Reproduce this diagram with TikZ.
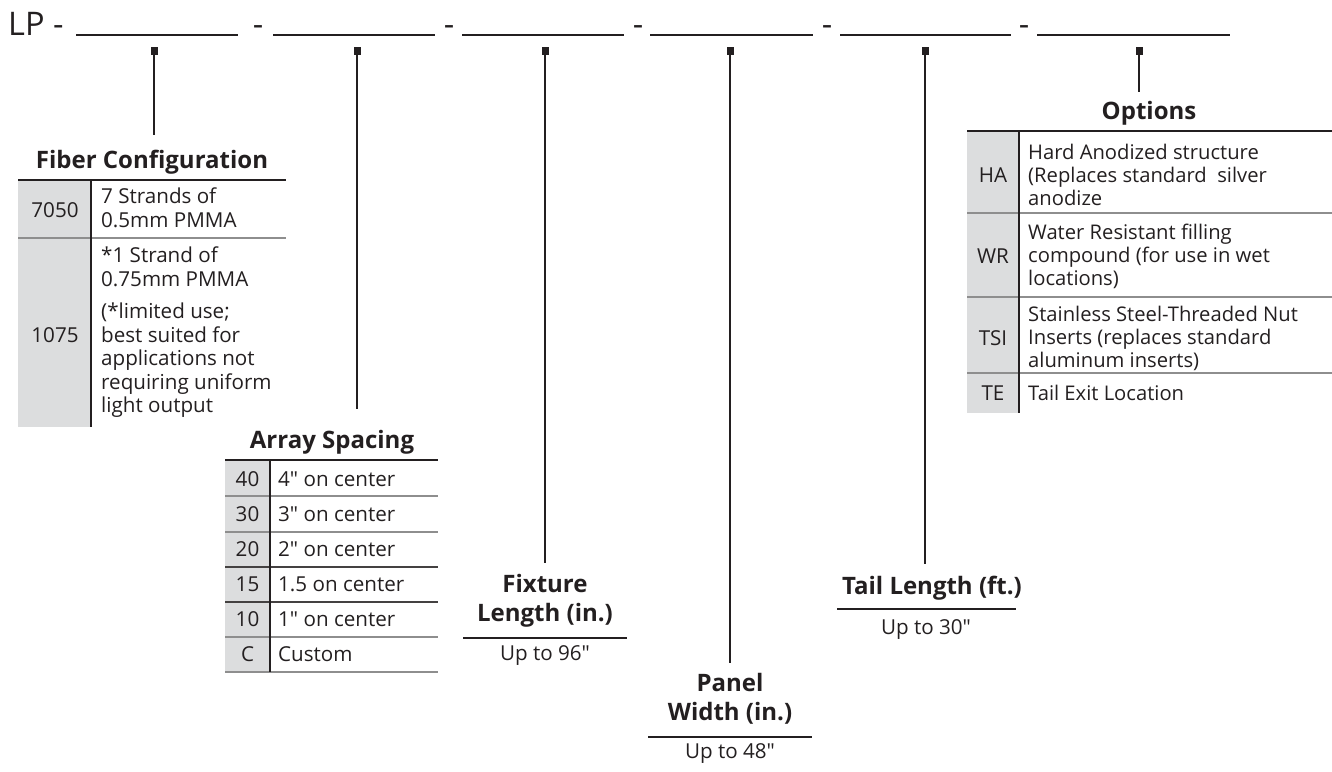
\documentclass[tikz,border=0pt]{standalone}
\usepackage{fontspec}
\setmainfont{Open Sans}[Ligatures=TeXOff]
\definecolor{ink}{HTML}{231F20}
\definecolor{cellgray}{HTML}{DCDDDE}
\definecolor{sepgray}{HTML}{8E8E8E}
\tikzset{
  hdr/.style={font=\fontsize{32.5}{36}\selectfont, text=ink, inner sep=0},
  sq/.style={fill=ink, minimum width=7pt, minimum height=8pt, inner sep=0},
  conn/.style={draw=ink, line width=1.6pt},
  blank/.style={draw=ink, line width=1.8pt},
  ttl/.style={font=\fontsize{24}{29}\selectfont\bfseries, text=ink, align=center, inner sep=0},
  txt/.style={font=\fontsize{20.6}{23.5}\selectfont, text=ink, align=left, anchor=west, inner sep=0},
  otxt/.style={txt, font=\fontsize{20.2}{23}\selectfont},
  code/.style={font=\fontsize{20.6}{23.5}\selectfont, text=ink, inner sep=0},
  upto/.style={font=\fontsize{20.6}{23.5}\selectfont, text=ink, inner sep=0},
  toprule/.style={draw=ink, line width=2pt},
  seprule/.style={draw=sepgray, line width=1.5pt},
  darksep/.style={draw=ink!85, line width=1.5pt},
  divrule/.style={draw=ink, line width=2.5pt},
  underrule/.style={draw=ink, line width=2pt}
}
\begin{document}
\begin{tikzpicture}[x=1pt,y=-1pt]
\useasboundingbox (0,0) rectangle (1332,771);

% ---------- header ----------
\node[hdr, anchor=base west] (lp) at (8,35) {LP -};
\draw[blank] (76,35) -- (238,35);
\node[hdr, anchor=base] (d1) at (258,35) {-};
\draw[blank] (273,35) -- (435,35);
\node[hdr, anchor=base] (d2) at (449,35) {-};
\draw[blank] (462,35) -- (624,35);
\node[hdr, anchor=base] (d3) at (638,35) {-};
\draw[blank] (650,35) -- (813,35);
\node[hdr, anchor=base] (d4) at (827,35) {-};
\draw[blank] (840,35) -- (1011,35);
\node[hdr, anchor=base] (d5) at (1024,35) {-};
\draw[blank] (1037,35) -- (1230,35);

% ---------- markers and leaders ----------
\node[sq] (s1) at (154,51) {};
\node[sq] (s2) at (357,51) {};
\node[sq] (s3) at (545,51) {};
\node[sq] (s4) at (730,51) {};
\node[sq] (s5) at (925,51) {};
\node[sq] (s6) at (1139,51) {};
\coordinate (e1) at (154,135);
\coordinate (e2) at (357,409);
\coordinate (e3) at (545,563);
\coordinate (e4) at (730,663);
\coordinate (e5) at (925,564);
\coordinate (e6) at (1139,92);
\draw[conn] (s1.south) -- (e1);
\draw[conn] (s2.south) -- (e2);
\draw[conn] (s3.south) -- (e3);
\draw[conn] (s4.south) -- (e4);
\draw[conn] (s5.south) -- (e5);
\draw[conn] (s6.south) -- (e6);

% ---------- Fiber Configuration ----------
\node[ttl] (fcT) at (152,162) {Fiber Configuration};
\fill[cellgray] (18,180) rectangle (91,427);
\draw[toprule] (18,180) -- (286,180);
\draw[seprule] (18,238) -- (286,238);
\draw[divrule] (91,180) -- (91,427);
\node[code] (fc1c) at (55,210) {7050};
\node[txt] (fc1t) at (101,208) {7 Strands of\\0.5mm PMMA};
\node[code] (fc2c) at (55,335) {1075};
\node[txt] (fc2a) at (101,267) {*1 Strand of\\0.75mm PMMA};
\node[txt] (fc2b) at (101,360.5) {(*limited use;\\best suited for\\applications not\\requiring uniform\\light output};

% ---------- Array Spacing ----------
\node[ttl] (asT) at (332,442) {Array Spacing};
\fill[cellgray] (225,460) rectangle (270,672);
\draw[toprule] (225,460) -- (438,460);
\draw[seprule] (225,496) -- (438,496);
\draw[seprule] (225,532) -- (438,532);
\draw[darksep] (225,567) -- (438,567);
\draw[darksep] (225,602) -- (438,602);
\draw[seprule] (225,637) -- (438,637);
\draw[seprule] (225,672) -- (438,672);
\draw[divrule] (270,460) -- (270,672);
\node[code] (a1c) at (247.5,479) {40};
\node[txt] (a1t) at (278,479) {4" on center};
\node[code] (a2c) at (247.5,514) {30};
\node[txt] (a2t) at (278,514) {3" on center};
\node[code] (a3c) at (247.5,549.5) {20};
\node[txt] (a3t) at (278,549.5) {2" on center};
\node[code] (a4c) at (247.5,584.5) {15};
\node[txt] (a4t) at (278,584.5) {1.5 on center};
\node[code] (a5c) at (247.5,619.5) {10};
\node[txt] (a5t) at (278,619.5) {1" on center};
\node[code] (a6c) at (247.5,654.5) {C};
\node[txt] (a6t) at (278,654.5) {Custom};

% ---------- Fixture Length ----------
\node[ttl] (flT) at (545,600.5) {Fixture\\Length (in.)};
\draw[underrule] (463,638) -- (627,638);
\node[upto] (flU) at (545,656) {Up to 96"};

% ---------- Panel Width ----------
\node[ttl] (pwT) at (730,698.5) {Panel\\Width (in.)};
\draw[underrule] (648,737) -- (812,737);
\node[upto] (pwU) at (730,754) {Up to 48"};

% ---------- Tail Length ----------
\node[ttl] (tlT) at (932,588) {Tail Length (ft.)};
\draw[underrule] (837,609) -- (1016,609);
\node[upto] (tlU) at (926,629) {Up to 30"};

% ---------- Options ----------
\node[ttl] (opT) at (1149,113) {Options};
\fill[cellgray] (967,131) rectangle (1019,413);
\draw[toprule] (967,131) -- (1332,131);
\draw[seprule] (967,213) -- (1332,213);
\draw[seprule] (967,297) -- (1332,297);
\draw[seprule] (967,373) -- (1332,373);
\draw[divrule] (1019,131) -- (1019,413);
\node[code] (o1c) at (993,175) {HA};
\node[otxt] (o1t) at (1028,175) {Hard Anodized structure\\(Replaces standard\ \ silver\\anodize};
\node[code] (o2c) at (993,256) {WR};
\node[otxt] (o2t) at (1028,256) {Water Resistant filling\\compound (for use in wet\\locations)};
\node[code] (o3c) at (993,338) {TSI};
\node[otxt] (o3t) at (1028,338) {Stainless Steel-Threaded Nut\\Inserts (replaces standard\\aluminum inserts)};
\node[code] (o4c) at (993,393) {TE};
\node[otxt] (o4t) at (1028,393) {Tail Exit Location};
\end{tikzpicture}
\end{document}
